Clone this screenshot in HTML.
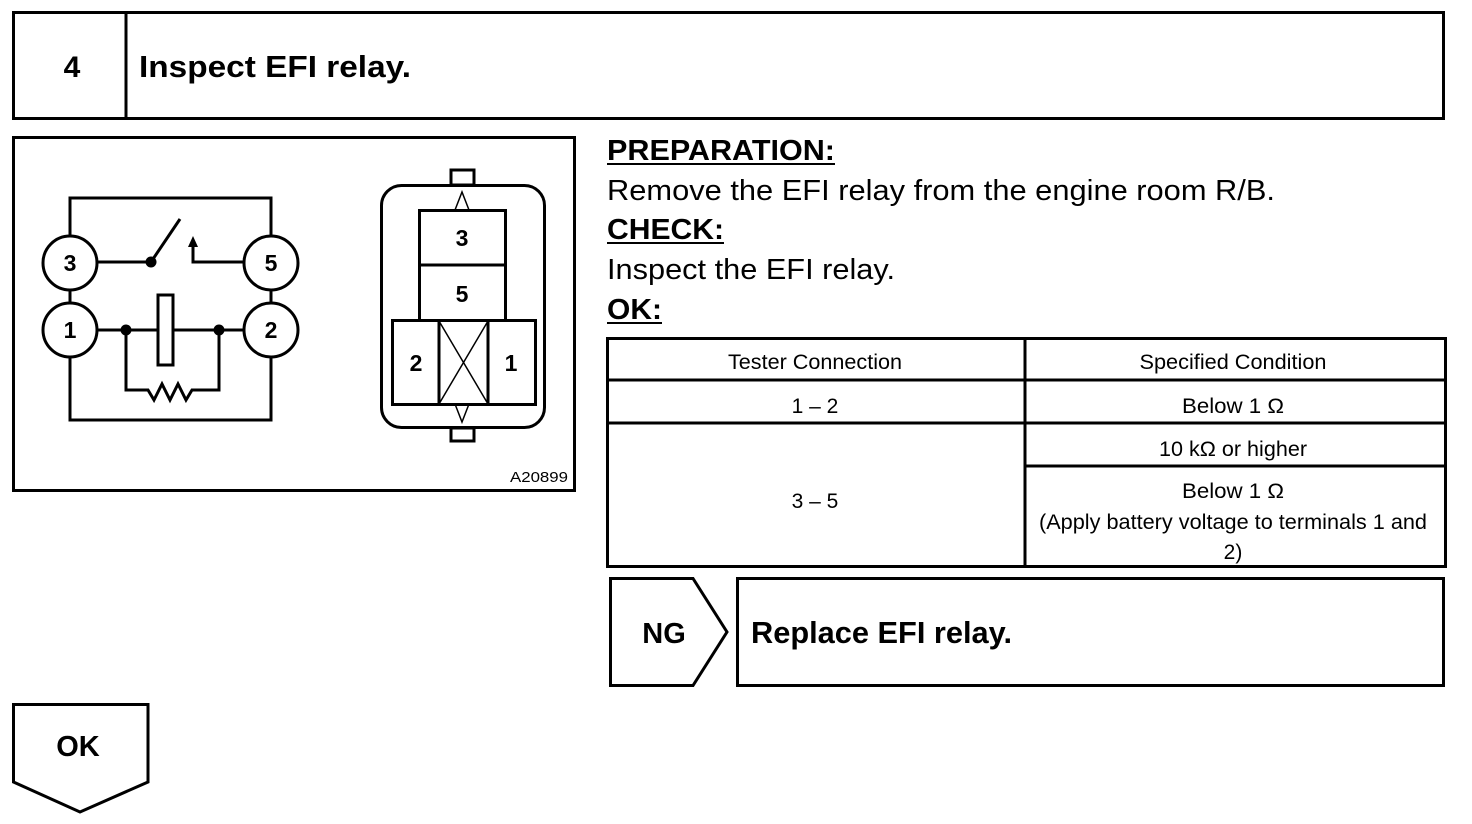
<!DOCTYPE html>
<html><head><meta charset="utf-8"><style>
html,body{margin:0;padding:0;background:#fff;}
svg{display:block;font-family:"Liberation Sans",Arial,sans-serif;}
</style></head><body>
<svg width="1472" height="824" viewBox="0 0 1472 824" xmlns="http://www.w3.org/2000/svg">
<g fill="none" stroke="#000" stroke-width="3">
<rect x="13.5" y="12.5" width="1430" height="106"/>
<line x1="126" y1="12" x2="126" y2="119"/>
<rect x="13.5" y="137.5" width="561" height="353"/>
</g>
<text x="72" y="77" font-size="30" font-weight="bold" text-anchor="middle">4</text>
<text x="139" y="77" font-size="31" font-weight="bold" textLength="272" lengthAdjust="spacingAndGlyphs">Inspect EFI relay.</text>

<!-- circuit -->
<g fill="none" stroke="#000" stroke-width="3">
<polyline points="70,236 70,198 271,198 271,236"/>
<polyline points="70,357 70,420 271,420 271,357"/>
<line x1="70" y1="290" x2="70" y2="303"/>
<line x1="271" y1="290" x2="271" y2="303"/>
<circle cx="70" cy="263" r="27"/>
<circle cx="271" cy="263" r="27"/>
<circle cx="70" cy="330" r="27"/>
<circle cx="271" cy="330" r="27"/>
<line x1="97" y1="262" x2="151" y2="262"/>
<line x1="151" y1="262" x2="180" y2="219"/>
<polyline points="244,262 193,262 193,245"/>
<line x1="97" y1="330" x2="157" y2="330"/>
<line x1="173" y1="330" x2="244" y2="330"/>
<rect x="158" y="295" width="15" height="70"/>
<polyline points="126,330 126,390 148,390 154,400 162,384 170,400 178,384 186,400 192,390 219,390 219,330"/>
</g>
<polygon points="193,236 188,247 198,247" fill="#000"/>
<circle cx="151" cy="262" r="5.5"/>
<circle cx="126" cy="330" r="5.5"/>
<circle cx="219" cy="330" r="5.5"/>
<g font-size="23" font-weight="bold" text-anchor="middle">
<text x="70" y="271">3</text><text x="271" y="271">5</text>
<text x="70" y="338">1</text><text x="271" y="338">2</text>
</g>

<!-- relay -->
<g fill="none" stroke="#000" stroke-width="3">
<rect x="381.5" y="185.5" width="163" height="242" rx="20"/>
<rect x="451" y="170" width="23" height="15"/>
<rect x="451" y="428" width="23" height="13"/>
<rect x="419.5" y="210.5" width="86" height="110"/>
<line x1="419" y1="265" x2="505" y2="265"/>
<rect x="392.5" y="320.5" width="143" height="84"/>
<line x1="439" y1="320" x2="439" y2="405"/>
<line x1="488" y1="320" x2="488" y2="405"/>
</g>
<g fill="none" stroke="#000" stroke-width="1.5">
<line x1="439" y1="321" x2="488" y2="404"/>
<line x1="488" y1="321" x2="439" y2="404"/>
<polyline points="455,210 462,192 469,210"/>
<polyline points="455,404 462,422 469,404"/>
</g>
<g font-size="23" font-weight="bold" text-anchor="middle">
<text x="462" y="246">3</text><text x="462" y="302">5</text>
<text x="416" y="371">2</text><text x="511" y="371">1</text>
</g>
<text x="539" y="482" font-size="15" text-anchor="middle" textLength="58" lengthAdjust="spacingAndGlyphs">A20899</text>

<!-- text -->
<g font-size="29">
<text x="607" y="160" font-weight="bold" textLength="228" lengthAdjust="spacingAndGlyphs">PREPARATION:</text>
<line x1="607" y1="164" x2="835" y2="164" stroke="#000" stroke-width="2"/>
<text x="607" y="200" textLength="668" lengthAdjust="spacingAndGlyphs">Remove the EFI relay from the engine room R/B.</text>
<text x="607" y="239" font-weight="bold" textLength="117" lengthAdjust="spacingAndGlyphs">CHECK:</text>
<line x1="607" y1="243" x2="724" y2="243" stroke="#000" stroke-width="2"/>
<text x="607" y="279" textLength="288" lengthAdjust="spacingAndGlyphs">Inspect the EFI relay.</text>
<text x="607" y="319" font-weight="bold" textLength="55" lengthAdjust="spacingAndGlyphs">OK:</text>
<line x1="607" y1="323" x2="662" y2="323" stroke="#000" stroke-width="2"/>
</g>

<!-- table -->
<g fill="none" stroke="#000" stroke-width="3">
<rect x="607.5" y="338.5" width="838" height="228"/>
<line x1="1025" y1="338" x2="1025" y2="567"/>
<line x1="607" y1="380" x2="1446" y2="380"/>
<line x1="607" y1="423" x2="1446" y2="423"/>
<line x1="1025" y1="466" x2="1446" y2="466"/>
</g>
<g font-size="21" text-anchor="middle">
<text x="815" y="369" textLength="174" lengthAdjust="spacingAndGlyphs">Tester Connection</text>
<text x="1233" y="369" textLength="187" lengthAdjust="spacingAndGlyphs">Specified Condition</text>
<text x="815" y="413">1 – 2</text>
<text x="1233" y="413" textLength="102" lengthAdjust="spacingAndGlyphs">Below 1 Ω</text>
<text x="1233" y="456" textLength="148" lengthAdjust="spacingAndGlyphs">10 kΩ or higher</text>
<text x="815" y="508">3 – 5</text>
<text x="1233" y="498" textLength="102" lengthAdjust="spacingAndGlyphs">Below 1 Ω</text>
<text x="1233" y="529" textLength="388" lengthAdjust="spacingAndGlyphs">(Apply battery voltage to terminals 1 and</text>
<text x="1233" y="559">2)</text>
</g>

<!-- NG / OK -->
<g fill="none" stroke="#000" stroke-width="3">
<polygon points="610.5,578.5 693,578.5 727,632 693,685.5 610.5,685.5"/>
<rect x="737.5" y="578.5" width="706" height="107"/>
<polygon points="13.5,704.5 148,704.5 148,782 80,812 13.5,782"/>
</g>
<text x="664" y="643" font-size="29" font-weight="bold" text-anchor="middle">NG</text>
<text x="751" y="643" font-size="31" font-weight="bold" textLength="261" lengthAdjust="spacingAndGlyphs">Replace EFI relay.</text>
<text x="78" y="756" font-size="29" font-weight="bold" text-anchor="middle">OK</text>
</svg>
</body></html>
